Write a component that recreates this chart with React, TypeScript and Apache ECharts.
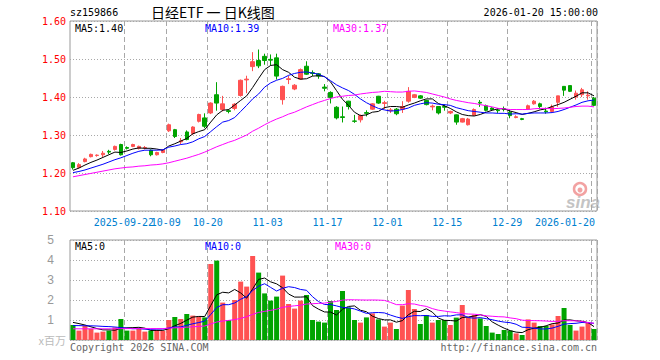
import React, { useEffect, useRef } from "react";
import * as echarts from "echarts";

const dates = [
  "2025-09-09","2025-09-10","2025-09-11","2025-09-12","2025-09-15","2025-09-16","2025-09-17","2025-09-18","2025-09-19","2025-09-22",
  "2025-09-23","2025-09-24","2025-09-25","2025-09-26","2025-09-29","2025-09-30","2025-10-09","2025-10-10","2025-10-13","2025-10-14",
  "2025-10-15","2025-10-16","2025-10-17","2025-10-20","2025-10-21","2025-10-22","2025-10-23","2025-10-24","2025-10-27","2025-10-28",
  "2025-10-29","2025-10-30","2025-10-31","2025-11-03","2025-11-04","2025-11-05","2025-11-06","2025-11-07","2025-11-10","2025-11-11",
  "2025-11-12","2025-11-13","2025-11-14","2025-11-17","2025-11-18","2025-11-19","2025-11-20","2025-11-21","2025-11-24","2025-11-25",
  "2025-11-26","2025-11-27","2025-11-28","2025-12-01","2025-12-02","2025-12-03","2025-12-04","2025-12-05","2025-12-08","2025-12-09",
  "2025-12-10","2025-12-11","2025-12-12","2025-12-15","2025-12-16","2025-12-17","2025-12-18","2025-12-19","2025-12-22","2025-12-23",
  "2025-12-24","2025-12-25","2025-12-26","2025-12-29","2025-12-30","2025-12-31","2026-01-05","2026-01-06","2026-01-07","2026-01-08",
  "2026-01-09","2026-01-12","2026-01-13","2026-01-14","2026-01-15","2026-01-16","2026-01-19","2026-01-20",
];

const opens = [
  1.227,1.215,1.230,1.243,1.246,1.248,1.257,1.262,1.275,1.267,
  1.270,1.265,1.266,1.260,1.248,1.254,1.311,1.314,1.282,1.308,
  1.304,1.336,1.345,1.358,1.406,1.367,1.364,1.370,1.404,1.445,
  1.480,1.496,1.507,1.499,1.503,1.393,1.446,1.421,1.447,1.481,
  1.464,1.461,1.426,1.412,1.373,1.348,1.389,1.337,1.340,1.359,
  1.368,1.402,1.383,1.364,1.368,1.368,1.389,1.399,1.403,1.391,
  1.374,1.375,1.375,1.358,1.353,1.334,1.327,1.352,1.386,1.377,
  1.371,1.366,1.369,1.360,1.346,1.343,1.368,1.382,1.382,1.363,
  1.362,1.386,1.428,1.430,1.400,1.406,1.403,1.397,
];
const closes = [
  1.214,1.222,1.237,1.249,1.247,1.252,1.255,1.270,1.248,1.265,
  1.275,1.270,1.267,1.248,1.254,1.260,1.327,1.296,1.285,1.288,
  1.321,1.354,1.323,1.384,1.384,1.382,1.362,1.381,1.444,1.447,
  1.493,1.482,1.496,1.497,1.455,1.428,1.448,1.431,1.472,1.460,
  1.462,1.455,1.423,1.399,1.345,1.346,1.375,1.336,1.351,1.357,
  1.382,1.384,1.385,1.366,1.356,1.375,1.415,1.406,1.397,1.380,
  1.376,1.358,1.373,1.362,1.334,1.343,1.342,1.367,1.384,1.365,
  1.367,1.364,1.367,1.351,1.348,1.341,1.377,1.389,1.375,1.361,
  1.374,1.403,1.418,1.415,1.410,1.419,1.405,1.378,
];
const lows = [
  1.209,1.212,1.228,1.241,1.243,1.242,1.250,1.259,1.246,1.262,
  1.268,1.262,1.262,1.244,1.246,1.252,1.308,1.292,1.276,1.286,
  1.300,1.333,1.318,1.355,1.364,1.362,1.357,1.365,1.401,1.410,
  1.468,1.476,1.485,1.483,1.446,1.380,1.434,1.418,1.445,1.458,
  1.455,1.448,1.415,1.383,1.341,1.333,1.367,1.332,1.333,1.349,
  1.366,1.382,1.368,1.358,1.352,1.358,1.385,1.397,1.395,1.378,
  1.365,1.354,1.364,1.355,1.327,1.333,1.325,1.350,1.374,1.362,
  1.365,1.358,1.362,1.344,1.344,1.339,1.366,1.380,1.368,1.356,
  1.359,1.374,1.403,1.413,1.393,1.400,1.393,1.376,
];
const highs = [
  1.229,1.226,1.240,1.251,1.249,1.258,1.261,1.272,1.277,1.270,
  1.277,1.272,1.271,1.262,1.256,1.262,1.330,1.316,1.292,1.312,
  1.323,1.356,1.357,1.386,1.439,1.403,1.368,1.384,1.446,1.456,
  1.518,1.525,1.514,1.512,1.514,1.430,1.456,1.434,1.475,1.494,
  1.470,1.463,1.434,1.415,1.376,1.375,1.390,1.353,1.354,1.365,
  1.384,1.403,1.390,1.371,1.371,1.389,1.426,1.408,1.405,1.393,
  1.380,1.376,1.381,1.364,1.354,1.345,1.345,1.370,1.392,1.380,
  1.373,1.371,1.375,1.367,1.352,1.345,1.380,1.392,1.385,1.372,
  1.380,1.403,1.428,1.430,1.417,1.424,1.415,1.400,
];
const volumes = [
  0.75,0.47,0.72,0.55,0.37,0.42,0.47,0.63,1.05,0.47,
  0.47,0.55,0.42,0.47,0.50,0.45,1.00,1.15,1.05,1.30,
  1.22,1.17,1.13,3.80,3.97,1.87,1.00,2.00,2.92,2.67,
  4.20,3.37,2.33,1.97,2.17,3.22,1.80,1.57,1.97,2.25,
  1.00,0.92,0.87,1.95,1.50,2.45,1.62,1.00,0.87,1.13,
  1.33,1.03,0.67,0.87,0.55,1.72,2.50,1.55,0.80,1.25,
  0.87,1.00,1.00,0.75,1.12,1.75,1.13,1.25,1.08,0.70,
  0.37,0.30,0.50,0.47,0.33,0.25,1.03,0.87,0.70,0.70,
  0.78,1.20,1.60,0.75,0.47,0.67,0.87,0.55,
];
const ma5 = [
  1.207,1.213,1.221,1.228,1.234,1.241,1.248,1.255,1.254,1.258,
  1.263,1.266,1.265,1.265,1.263,1.260,1.271,1.277,1.284,1.291,
  1.303,1.309,1.314,1.334,1.353,1.365,1.367,1.379,1.391,1.403,
  1.425,1.449,1.472,1.483,1.485,1.472,1.465,1.452,1.447,1.448,
  1.455,1.456,1.454,1.440,1.417,1.394,1.378,1.360,1.351,1.353,
  1.360,1.362,1.372,1.375,1.375,1.373,1.379,1.384,1.390,1.395,
  1.395,1.383,1.377,1.370,1.361,1.354,1.351,1.350,1.354,1.360,
  1.365,1.369,1.369,1.363,1.359,1.354,1.357,1.361,1.366,1.369,
  1.375,1.380,1.386,1.394,1.402,1.411,1.411,1.403,
];
const ma10 = [
  1.201,1.204,1.208,1.213,1.218,1.223,1.229,1.235,1.240,1.246,
  1.252,1.257,1.260,1.260,1.260,1.261,1.268,1.271,1.275,1.277,
  1.282,1.290,1.296,1.309,1.322,1.334,1.338,1.346,1.362,1.378,
  1.395,1.408,1.426,1.437,1.444,1.449,1.457,1.462,1.465,1.466,
  1.463,1.460,1.453,1.443,1.432,1.424,1.417,1.407,1.395,1.385,
  1.377,1.370,1.366,1.363,1.364,1.367,1.371,1.378,1.382,1.385,
  1.384,1.381,1.380,1.378,1.372,1.368,1.364,1.362,1.360,1.358,
  1.358,1.357,1.357,1.355,1.356,1.355,1.357,1.358,1.358,1.358,
  1.359,1.362,1.367,1.373,1.379,1.386,1.390,1.392,
];
const ma30 = [
  1.190,1.193,1.196,1.199,1.202,1.205,1.208,1.211,1.213,1.215,
  1.216,1.218,1.219,1.221,1.222,1.224,1.227,1.231,1.235,1.239,
  1.244,1.249,1.255,1.262,1.269,1.275,1.281,1.286,1.293,1.300,
  1.310,1.318,1.327,1.335,1.342,1.348,1.355,1.360,1.367,1.374,
  1.380,1.386,1.391,1.396,1.400,1.402,1.404,1.405,1.408,1.410,
  1.412,1.413,1.415,1.414,1.413,1.413,1.415,1.416,1.414,1.412,
  1.408,1.404,1.400,1.395,1.391,1.388,1.385,1.383,1.380,1.377,
  1.374,1.370,1.369,1.367,1.367,1.367,1.367,1.369,1.370,1.370,
  1.369,1.370,1.371,1.373,1.375,1.376,1.376,1.374,
];
const vma5 = [
  0.88,0.82,0.75,0.66,0.572,0.506,0.506,0.488,0.588,0.608,
  0.618,0.634,0.592,0.476,0.482,0.478,0.568,0.714,0.83,0.99,
  1.144,1.178,1.174,1.724,2.258,2.388,2.354,2.528,2.352,2.092,
  2.558,3.032,3.098,2.908,2.808,2.612,2.298,2.146,2.146,2.162,
  1.718,1.542,1.402,1.398,1.248,1.538,1.678,1.704,1.488,1.414,
  1.19,1.072,1.006,1.006,0.89,0.968,1.262,1.438,1.424,1.564,
  1.394,1.094,0.984,0.974,0.948,1.124,1.15,1.2,1.266,1.182,
  0.906,0.74,0.59,0.468,0.394,0.37,0.516,0.59,0.636,0.71,
  0.816,0.85,0.996,1.006,0.96,0.938,0.872,0.67,
];
const vma10 = [
  0.72,0.72,0.71,0.71,0.70,0.68,0.67,0.65,0.62,0.59,
  0.562,0.57,0.54,0.532,0.545,0.548,0.601,0.653,0.653,0.736,
  0.811,0.873,0.944,1.277,1.624,1.766,1.766,1.851,2.038,2.175,
  2.473,2.693,2.813,2.63,2.45,2.585,2.665,2.622,2.527,2.485,
  2.165,1.92,1.774,1.772,1.705,1.628,1.61,1.553,1.443,1.331,
  1.364,1.375,1.355,1.247,1.152,1.079,1.167,1.222,1.215,1.227,
  1.181,1.178,1.211,1.199,1.256,1.259,1.122,1.092,1.12,1.065,
  1.015,0.945,0.895,0.867,0.788,0.638,0.628,0.59,0.552,0.552,
  0.593,0.683,0.793,0.821,0.835,0.877,0.861,0.833,
];
const vma30 = [
  0.56,0.56,0.56,0.56,0.56,0.56,0.56,0.56,0.57,0.57,
  0.57,0.57,0.57,0.57,0.57,0.57,0.59,0.61,0.62,0.64,
  0.66,0.68,0.70,0.80,0.90,0.95,0.98,1.02,1.08,1.167,
  1.282,1.379,1.432,1.48,1.54,1.633,1.677,1.709,1.739,1.799,
  1.816,1.829,1.844,1.893,1.926,1.993,2.014,2.009,2.003,1.997,
  2.001,1.996,1.981,1.883,1.769,1.764,1.814,1.799,1.728,1.681,
  1.57,1.491,1.447,1.406,1.371,1.322,1.3,1.289,1.259,1.208,
  1.187,1.166,1.154,1.104,1.065,0.992,0.972,0.968,0.962,0.948,
  0.93,0.935,0.966,0.962,0.96,0.925,0.87,0.838,
];

const tickDates = ["2025-09-22","2025-10-09","2025-10-20","2025-11-03","2025-11-17","2025-12-01","2025-12-15","2025-12-29","2026-01-20"];
const tickLabels = ["2025-09-22","10-09","10-20","11-03","11-17","12-01","12-15","12-29","2026-01-20"];

const RED = "#ff5252";
const GREEN = "#00a400";
const MONO = '"DejaVu Sans Mono", "Liberation Mono", monospace';
const GRID_LINE = "#a8a8a8";

export default function App() {
  const ref = useRef<HTMLDivElement>(null);

  useEffect(() => {
    document.body.style.margin = "0";
    if (!ref.current) return;
    const chart = echarts.init(ref.current, null, { renderer: "svg" });
    const isTick = (_i: number, v: string) => tickDates.indexOf(v) >= 0;
    const isRestTick = (_i: number, v: string) => tickDates.indexOf(v) > 0;
    const isFirstTick = (_i: number, v: string) => tickDates.indexOf(v) === 0;
    const lastTick = tickDates.length - 1;

    const labelFont = { fontFamily: MONO, fontSize: 10, color: "#0080d0" };
    const fmt = (v: string) => {
      const k = tickDates.indexOf(v);
      if (k < 0) return "";
      return k === lastTick ? `{e|${tickLabels[k]}}` : `{n|${tickLabels[k]}}`;
    };
    const rich = {
      n: { ...labelFont, padding: [0, 6, 0, 0] },
      e: { ...labelFont, padding: [0, 58, 0, 0] },
    };

    const option: any = {
      animation: false,
      backgroundColor: "#ffffff",
      grid: [
        { left: 70, top: 21, width: 527, height: 190, show: true, borderColor: "#999", borderWidth: 1, backgroundColor: "transparent" },
        { left: 70, top: 240, width: 527, height: 100, show: true, borderColor: "#999", borderWidth: 1, backgroundColor: "transparent" },
      ],
      xAxis: [
        {
          type: "category",
          gridIndex: 0,
          position: "bottom",
          data: dates,
          boundaryGap: true,
          axisLine: { show: false },
          axisTick: { show: false },
          axisLabel: { interval: isRestTick, margin: 6, hideOverlap: false, showMaxLabel: true, ...labelFont, formatter: fmt, rich },
          splitLine: { show: true, interval: isTick, lineStyle: { color: GRID_LINE, width: 1, type: [5, 3] } },
        },
        {
          type: "category",
          gridIndex: 1,
          position: "bottom",
          data: dates,
          boundaryGap: true,
          axisLine: { show: false },
          axisTick: { show: false },
          axisLabel: { show: false },
          splitLine: { show: true, interval: isTick, lineStyle: { color: GRID_LINE, width: 1, type: [5, 3] } },
        },
        {
          type: "category",
          gridIndex: 0,
          position: "bottom",
          offset: 0,
          data: dates,
          boundaryGap: true,
          axisLine: { show: false },
          axisTick: { show: false },
          splitLine: { show: false },
          axisLabel: { interval: isFirstTick, margin: 6, hideOverlap: false, showMinLabel: false, showMaxLabel: false, ...labelFont, formatter: fmt, rich },
        },
      ],
      yAxis: [
        {
          type: "value",
          gridIndex: 0,
          min: 1.1,
          max: 1.6,
          interval: 0.1,
          axisLine: { show: false },
          axisTick: { show: false },
          axisLabel: { color: "#ff0000", fontFamily: MONO, fontSize: 10, margin: 4, formatter: (v: number) => v.toFixed(2) },
          splitLine: { lineStyle: { color: GRID_LINE, width: 1, type: [1, 2] } },
        },
        {
          type: "value",
          gridIndex: 1,
          min: 0,
          max: 5,
          interval: 1,
          axisLine: { show: false },
          axisTick: { show: false },
          axisLabel: {
            color: "#999",
            fontFamily: '"Liberation Sans", Arial, sans-serif',
            fontSize: 12,
            margin: 16,
            formatter: (v: number) => (v === 0 ? "" : String(v)),
          },
          splitLine: { lineStyle: { color: GRID_LINE, width: 1, type: [1, 2] } },
        },
      ],
      series: [
        {
          type: "candlestick",
          xAxisIndex: 0,
          yAxisIndex: 0,
          barWidth: 4,
          data: dates.map((_, i) => [opens[i], closes[i], lows[i], highs[i]]),
          itemStyle: { color: RED, color0: GREEN, borderColor: RED, borderColor0: GREEN, borderWidth: 1 },
          z: 2,
        },
        { type: "line", name: "MA5", xAxisIndex: 0, yAxisIndex: 0, data: ma5, symbol: "none", lineStyle: { color: "#000000", width: 1 }, itemStyle: { color: "#000" }, z: 3 },
        { type: "line", name: "MA10", xAxisIndex: 0, yAxisIndex: 0, data: ma10, symbol: "none", lineStyle: { color: "#0000ff", width: 1 }, itemStyle: { color: "#00f" }, z: 3 },
        { type: "line", name: "MA30", xAxisIndex: 0, yAxisIndex: 0, data: ma30, symbol: "none", lineStyle: { color: "#ff00ff", width: 1 }, itemStyle: { color: "#f0f" }, z: 3 },
        {
          type: "bar",
          xAxisIndex: 1,
          yAxisIndex: 1,
          barWidth: 5,
          data: volumes.map((v, i) => ({ value: v, itemStyle: { color: closes[i] >= opens[i] ? RED : GREEN } })),
          z: 2,
        },
        { type: "line", name: "VMA5", xAxisIndex: 1, yAxisIndex: 1, data: vma5, symbol: "none", lineStyle: { color: "#000000", width: 1 }, z: 3 },
        { type: "line", name: "VMA10", xAxisIndex: 1, yAxisIndex: 1, data: vma10, symbol: "none", lineStyle: { color: "#0000ff", width: 1 }, z: 3 },
        { type: "line", name: "VMA30", xAxisIndex: 1, yAxisIndex: 1, data: vma30, symbol: "none", lineStyle: { color: "#ff00ff", width: 1 }, z: 3 },
      ],
      graphic: [
        { type: "text", x: 70, y: 12, style: { text: "sz159866", fontFamily: MONO, fontSize: 10, fill: "#000", textAlign: "left", textVerticalAlign: "middle" } },
        { type: "text", x: 151, y: 12, style: { text: "日经ETF 一 日K线图", fontFamily: '"Noto Sans CJK SC", sans-serif', fontSize: 14, fill: "#000", textAlign: "left", textVerticalAlign: "middle" } },
        { type: "text", x: 598, y: 12, style: { text: "2026-01-20 15:00:00", fontFamily: MONO, fontSize: 10, fill: "#000", textAlign: "right", textVerticalAlign: "middle" } },
        { type: "text", x: 75, y: 28, z: 10, style: { text: `MA5:${ma5[ma5.length - 1].toFixed(2)}`, fontFamily: MONO, fontSize: 10, fill: "#000", textAlign: "left", textVerticalAlign: "middle" } },
        { type: "text", x: 205, y: 28, z: 10, style: { text: `MA10:${ma10[ma10.length - 1].toFixed(2)}`, fontFamily: MONO, fontSize: 10, fill: "#0000ff", textAlign: "left", textVerticalAlign: "middle" } },
        { type: "text", x: 333, y: 28, z: 10, style: { text: `MA30:${ma30[ma30.length - 1].toFixed(2)}`, fontFamily: MONO, fontSize: 10, fill: "#ff00ff", textAlign: "left", textVerticalAlign: "middle" } },
        { type: "text", x: 75, y: 246, z: 10, style: { text: "MA5:0", fontFamily: MONO, fontSize: 10, fill: "#000", textAlign: "left", textVerticalAlign: "middle" } },
        { type: "text", x: 205, y: 246, z: 10, style: { text: "MA10:0", fontFamily: MONO, fontSize: 10, fill: "#0000ff", textAlign: "left", textVerticalAlign: "middle" } },
        { type: "text", x: 335, y: 246, z: 10, style: { text: "MA30:0", fontFamily: MONO, fontSize: 10, fill: "#ff00ff", textAlign: "left", textVerticalAlign: "middle" } },
        { type: "text", x: 66, y: 340, style: { text: "x百万", fontFamily: '"Noto Sans CJK SC", sans-serif', fontSize: 11, fill: "#bbbbbb", textAlign: "right", textVerticalAlign: "middle" } },
        { type: "text", x: 70, y: 347, style: { text: "Copyright 2026 SINA.COM", fontFamily: MONO, fontSize: 10, fill: "#666", textAlign: "left", textVerticalAlign: "middle" } },
        { type: "text", x: 597, y: 347, style: { text: "http://finance.sina.com.cn", fontFamily: MONO, fontSize: 10, fill: "#666", textAlign: "right", textVerticalAlign: "middle" } },
        {
          type: "group",
          z: 1,
          children: [
            { type: "circle", shape: { cx: 580, cy: 189, r: 6 }, style: { fill: "none", stroke: "#f2a2a2", lineWidth: 2.5 } },
            { type: "circle", shape: { cx: 580, cy: 190, r: 2.5 }, style: { fill: "#f2a2a2" } },
            { type: "text", x: 566, y: 202, style: { text: "sina", fontFamily: '"Liberation Sans", Arial, sans-serif', fontSize: 17, fontStyle: "italic", fontWeight: "bold", fill: "#c4c4c4", textAlign: "left", textVerticalAlign: "middle" } },
          ],
        },
      ],
    };
    chart.setOption(option);
    return () => chart.dispose();
  }, []);

  return <div ref={ref} style={{ width: 660, height: 360 }} />;
}
